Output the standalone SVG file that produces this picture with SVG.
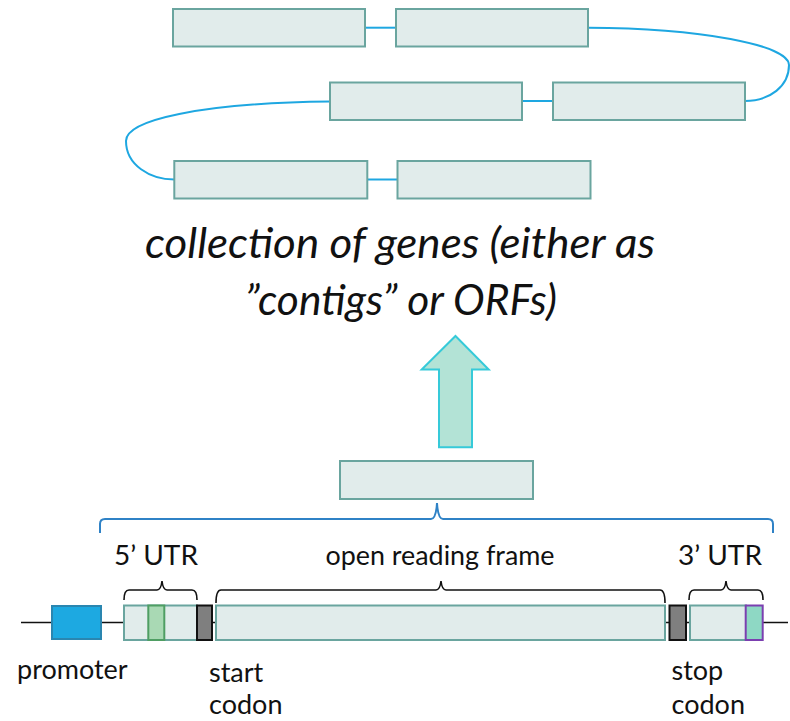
<svg xmlns="http://www.w3.org/2000/svg" width="790" height="721" viewBox="0 0 790 721">
<style>
.box{fill:#E1ECEB;stroke:#6AA59F;stroke-width:2}
.link{fill:none;stroke:#1EA7E1;stroke-width:2}
.brk{fill:none;stroke:#111;stroke-width:1.6}
.lbl{font-family:Lato,"Liberation Sans",sans-serif;font-size:27px;fill:#111}
.title{font-family:Lato,"Liberation Sans",sans-serif;font-size:42px;font-style:italic;fill:#111}
.codon{fill:#7F7F7F;stroke:#111;stroke-width:2}
</style>
<rect width="790" height="721" fill="#fff"/>
<g id="connectors">
  <line class="link" x1="365" y1="27.7" x2="396" y2="27.7"/>
  <path class="link" d="M588,27.7 C700,28 789,45 789,65 C789,86 770,101 745,101"/>
  <line class="link" x1="522" y1="101" x2="553" y2="101"/>
  <path class="link" d="M330,101.5 C200,103 126,120 126,141 C126,165 150,179.5 174.3,179.5"/>
  <line class="link" x1="367.5" y1="179.5" x2="397.5" y2="179.5"/>
</g>
<g id="gene-a"><rect class="box" x="173" y="9" width="192" height="37.5"/></g>
<g id="gene-b"><rect class="box" x="396" y="9" width="192" height="37.5"/></g>
<g id="gene-c"><rect class="box" x="330" y="82.5" width="192" height="37.5"/></g>
<g id="gene-d"><rect class="box" x="553" y="82.5" width="192" height="37.5"/></g>
<g id="gene-e"><rect class="box" x="174.3" y="161" width="193" height="37.5"/></g>
<g id="gene-f"><rect class="box" x="397.5" y="161" width="193" height="37.5"/></g>
<g id="title">
  <text class="title" x="400" y="258" text-anchor="middle" textLength="510" lengthAdjust="spacingAndGlyphs">collection of genes (either as</text>
  <text class="title" x="401" y="315" text-anchor="middle" textLength="312" lengthAdjust="spacingAndGlyphs">”contigs” or ORFs)</text>
</g>
<g id="arrow">
  <polygon points="455.5,336 488.7,369.5 472,369.5 472,447.3 439,447.3 439,369.5 421.7,369.5" fill="#B3E3D6" stroke="#36CAD9" stroke-width="2" stroke-linejoin="miter"/>
</g>
<g id="gene-box"><rect class="box" x="340" y="461" width="193" height="38"/></g>
<g id="gene-brace">
  <path d="M100,533 V524 Q100,519 105,519 H431 Q436,519 437,503 Q438,519 443,519 H768 Q773,519 773,524 V533" fill="none" stroke="#2F82C6" stroke-width="2"/>
</g>
<g id="gene-structure">
  <line x1="21" y1="622.5" x2="788" y2="622.5" stroke="#111" stroke-width="1.6"/>
  <g id="promoter">
    <rect x="52" y="606" width="49" height="33" fill="#1DA9E1" stroke="#2A86B0" stroke-width="2"/>
    <text class="lbl" x="17" y="679">promoter</text>
  </g>
  <g id="utr5">
    <rect class="box" x="124" y="605.5" width="73" height="34.5"/>
    <rect x="148.3" y="605.5" width="16" height="34.5" fill="#A9D9B4" stroke="#4F9E63" stroke-width="2"/>
    <path class="brk" d="M124,600 Q124,590 129,590 H157 Q161,590 162,581 Q163,590 167,590 H192 Q197,590 197,600"/>
    <text class="lbl" x="156" y="565" text-anchor="middle" textLength="84" lengthAdjust="spacingAndGlyphs">5’ UTR</text>
  </g>
  <g id="start-codon">
    <rect class="codon" x="197" y="605.5" width="15" height="34.5"/>
    <text class="lbl" x="209" y="682">start</text>
    <text class="lbl" x="209" y="714" font-size="26">codon</text>
  </g>
  <g id="orf">
    <rect class="box" x="216" y="605.5" width="449" height="34.5"/>
    <path class="brk" d="M216,603 Q216,590 221,590 H436 Q440,590 441,581 Q442,590 446,590 H660 Q665,590 665,603"/>
    <text class="lbl" x="440" y="565" text-anchor="middle" textLength="229" lengthAdjust="spacingAndGlyphs">open reading frame</text>
  </g>
  <g id="stop-codon">
    <rect class="codon" x="669.5" y="605.5" width="16.5" height="34.5"/>
    <text class="lbl" x="671.5" y="680">stop</text>
    <text class="lbl" x="671.5" y="714" font-size="26">codon</text>
  </g>
  <g id="utr3">
    <rect class="box" x="690" y="605.5" width="56" height="34.5"/>
    <rect x="745.7" y="605.5" width="17" height="34.5" fill="#8ED8C4" stroke="#7B3FB0" stroke-width="2"/>
    <path class="brk" d="M689,600 Q689,590 694,590 H721 Q725,590 726,581 Q727,590 731,590 H758 Q763,590 763,600"/>
    <text class="lbl" x="720" y="565" text-anchor="middle" textLength="84" lengthAdjust="spacingAndGlyphs">3’ UTR</text>
  </g>
</g>
</svg>
